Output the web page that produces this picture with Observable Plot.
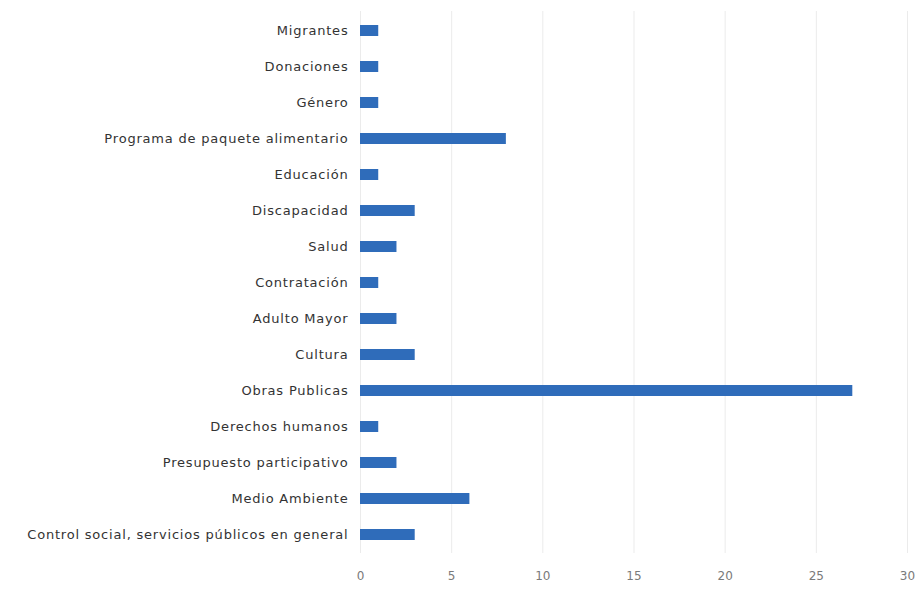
<!DOCTYPE html>
<html>
<head>
<meta charset="utf-8">
<script src="https://cdn.jsdelivr.net/npm/d3@7"></script>
<script src="https://cdn.jsdelivr.net/npm/@observablehq/plot@0.6"></script>
<style>
  html, body { margin: 0; padding: 0; background: #fff; }
  .yax text { letter-spacing: 0.8px; }
</style>
</head>
<body>
<div id="chart"></div>
<script>
const categories = [
  "Migrantes",
  "Donaciones",
  "Género",
  "Programa de paquete alimentario",
  "Educación",
  "Discapacidad",
  "Salud",
  "Contratación",
  "Adulto Mayor",
  "Cultura",
  "Obras Publicas",
  "Derechos humanos",
  "Presupuesto participativo",
  "Medio Ambiente",
  "Control social, servicios públicos en general"
];
const values = [1, 1, 1, 8, 1, 3, 2, 1, 2, 3, 27, 1, 2, 6, 3];
const xTicks = [0, 5, 10, 15, 20, 25, 30];

const data = categories.map((c, i) => ({category: c, value: values[i]}));

const chart = Plot.plot({
  width: 919,
  height: 593,
  marginLeft: 360,
  marginRight: 12,
  marginTop: 11,
  marginBottom: 40,
  style: {fontFamily: "'DejaVu Sans', sans-serif", fontSize: "12px", background: "#fff"},
  x: {domain: [0, 30], ticks: xTicks, label: null},
  y: {domain: categories, label: null, paddingInner: 0.7, paddingOuter: 0.35},
  marks: [
    Plot.gridX(xTicks, {stroke: "#ebebeb", strokeOpacity: 1}),
    Plot.barX(data, {x: "value", y: "category", fill: "#2f6cba"}),
    Plot.axisX({ticks: xTicks, tickSize: 0, tickPadding: 18, fill: "#7a7a7a", fontSize: 12, label: null}),
    Plot.axisY({tickSize: 0, tickPadding: 12, fill: "#333", fontSize: 13, label: null, className: "yax"})
  ]
});
document.getElementById("chart").appendChild(chart);
</script>
</body>
</html>
